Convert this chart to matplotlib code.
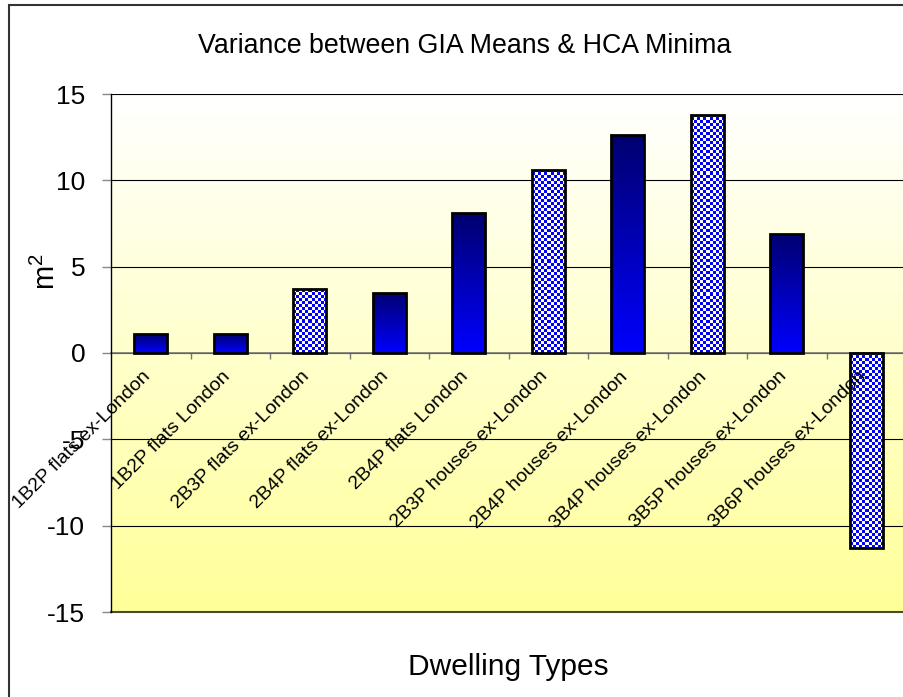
import numpy as np
import matplotlib
matplotlib.use('Agg')
import matplotlib.pyplot as plt
from matplotlib.colors import LinearSegmentedColormap, ListedColormap
from matplotlib.patches import Rectangle
from matplotlib.transforms import offset_copy

plt.rcParams['font.family'] = ['Liberation Sans', 'DejaVu Sans']
plt.rcParams['axes.unicode_minus'] = False

DWELLING_TYPES = [
    '1B2P flats ex-London',
    '1B2P flats London',
    '2B3P flats ex-London',
    '2B4P flats ex-London',
    '2B4P flats London',
    '2B3P houses ex-London',
    '2B4P houses ex-London',
    '3B4P houses ex-London',
    '3B5P houses ex-London',
    '3B6P houses ex-London',
]
VARIANCE = [1.1, 1.1, 3.7, 3.5, 8.1, 10.6, 12.6, 13.8, 6.9, -11.3]
# which bars use the checkered fill
CHECKERED = [False, False, True, False, False, True, False, True, False, True]

W, H = 904, 697
fig = plt.figure(figsize=(W / 100, H / 100), dpi=100)

# outer chart frame (cut off at right/bottom like the original)
fig.patches.append(Rectangle((9 / W, -0.05), 1.1, 1 - 5 / H + 0.05,
                             transform=fig.transFigure, fill=False,
                             edgecolor='#333333', linewidth=1.5))

ax = fig.add_axes([111 / W, 1 - 612 / H, 795 / W, 518 / H])
ax.set_facecolor('none')
ax.set_xlim(-0.5, 9.5)
ax.set_ylim(-15, 15)

# background gradient: white at top to pale yellow at bottom
bg = LinearSegmentedColormap.from_list('bg', ['#ffffff', '#ffff99'])
ax.imshow(np.linspace(0, 1, 256).reshape(-1, 1), cmap=bg, aspect='auto',
          extent=(0, 1, 0, 1), transform=ax.transAxes, origin='upper', zorder=0)

ax.set_yticks(np.arange(-15, 16, 5))
ax.grid(axis='y', color='black', linewidth=0.8, zorder=1)
ax.set_axisbelow(True)

x = np.arange(len(DWELLING_TYPES))
bars = ax.bar(x, VARIANCE, width=0.42, facecolor='none', edgecolor='black',
              linewidth=2.0, zorder=4)

grad = LinearSegmentedColormap.from_list('bar', ['#000070', '#0000ff'])
checker = ListedColormap(['#ffffff', '#0000ff'])
for bar, chk in zip(bars, CHECKERED):
    x0, y0 = bar.get_x(), bar.get_y()
    x1, y1 = x0 + bar.get_width(), y0 + bar.get_height()
    ext = (x0, x1, min(y0, y1), max(y0, y1))
    if chk:
        p0 = ax.transData.transform((x0, ext[2]))
        p1 = ax.transData.transform((x1, ext[3]))
        nc = max(1, int(round(abs(p1[0] - p0[0]) / 3)))
        nr = max(1, int(round(abs(p1[1] - p0[1]) / 3)))
        arr = np.indices((nr, nc)).sum(axis=0) % 2
        im = ax.imshow(arr, cmap=checker, aspect='auto', extent=ext,
                       interpolation='nearest', zorder=3)
    else:
        im = ax.imshow(np.linspace(0, 1, 256).reshape(-1, 1), cmap=grad,
                       aspect='auto', extent=ext, origin='upper', zorder=3)
    im.set_clip_path(bar)

ax.set_xlim(-0.5, 9.5)
ax.set_ylim(-15, 15)

# category axis crosses at zero
for s in ['top', 'right']:
    ax.spines[s].set_visible(False)
ax.spines['bottom'].set_position(('data', 0))
ax.spines['bottom'].set_color('#777777')
ax.spines['bottom'].set_linewidth(1.2)
ax.spines['bottom'].set_zorder(2)
ax.spines['left'].set_color('black')
ax.spines['left'].set_linewidth(1.0)
ax.axhline(-15, color='#4a4a30', linewidth=1.5, zorder=2, clip_on=False)

ax.set_xticks(np.arange(0.5, 9.5, 1))
ax.set_xticklabels([])
ax.tick_params(axis='x', direction='out', length=4, width=1, color='#777777')
ax.tick_params(axis='y', direction='out', length=6.5, width=1, color='#888888',
               labelsize=19, pad=12)

lab_tr = offset_copy(ax.transData, fig=fig, x=-3, y=-21, units='dots')
for xi, name in zip(x, DWELLING_TYPES):
    ax.text(xi, 0, name, rotation=45, rotation_mode='anchor', ha='right',
            va='center', fontsize=14, transform=lab_tr, zorder=5)

fig.text(465 / W, 1 - 53 / H, 'Variance between GIA Means & HCA Minima',
         ha='center', va='baseline', fontsize=19.3)
fig.text(508 / W, 1 - 675 / H, 'Dwelling Types', ha='center', va='baseline',
         fontsize=21.5)
fig.text(46 / W, 1 - 272 / H, r'$\mathregular{m^2}$', rotation=90,
         ha='center', va='center', fontsize=21)

fig.savefig('out.png', dpi=100)
